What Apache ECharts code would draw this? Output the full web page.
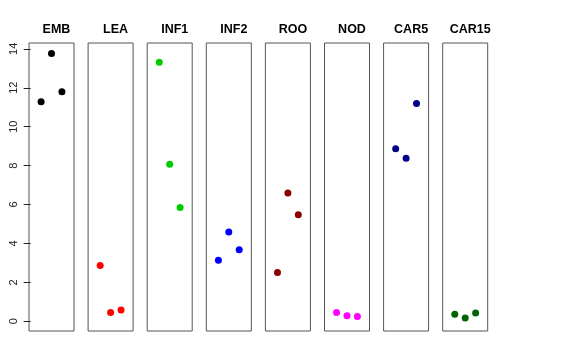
<!DOCTYPE html>
<html><head><meta charset="utf-8">
<script src="https://cdn.jsdelivr.net/npm/echarts@6/dist/echarts.min.js"></script>
<style>html,body{margin:0;padding:0;background:#fff}#c{width:576px;height:360px}</style>
</head><body><div id="c"></div>
<script>
const categories = ['EMB','LEA','INF1','INF2','ROO','NOD','CAR5','CAR15'];
const colors = ['#000000','#FF0000','#00CD00','#0000FF','#8B0000','#FF00FF','#00008B','#006400'];
const values = [
  [11.28, 13.76, 11.79],
  [2.86, 0.45, 0.58],
  [13.31, 8.07, 5.85],
  [3.13, 4.59, 3.67],
  [2.51, 6.59, 5.47],
  [0.45, 0.29, 0.24],
  [8.86, 8.38, 11.19],
  [0.36, 0.17, 0.43]
];
const yTicks = [0, 2, 4, 6, 8, 10, 12, 14];

const chart = echarts.init(document.getElementById('c'), null, {renderer:'canvas'});
const grids = [], xAxes = [], yAxes = [], series = [], titles = [];
const left0 = 29, step = 59.1, w = 45;
categories.forEach((cat, i) => {
  const l = left0 + i * step;
  grids.push({left: l, top: 43, width: w, height: 288, show: true, borderColor: '#555', borderWidth: 1, backgroundColor: 'transparent'});
  xAxes.push({type: 'value', gridIndex: i, min: -0.16, max: 4.16, show: false});
  yAxes.push({
    type: 'value', gridIndex: i, min: -0.5, max: 14.3, show: i === 0,
    splitLine: {show: false},
    axisLine: {show: false},
    axisTick: {show: true, length: 7, customValues: yTicks, lineStyle: {color: '#222'}},
    axisLabel: {show: true, customValues: yTicks, rotate: 90, margin: 10, fontSize: 11, color: '#222', fontFamily: 'Liberation Sans, Arial, sans-serif'}
  });
  series.push({
    type: 'scatter', xAxisIndex: i, yAxisIndex: i,
    data: values[i].map((v, j) => [j + 1, v]),
    symbolSize: 7, itemStyle: {color: colors[i], opacity: 1},
    silent: true
  });
  titles.push({
    text: cat, left: l + w / 2, top: 18, textAlign: 'center',
    textStyle: {fontSize: 12.5, fontWeight: 'bold', color: '#000', fontFamily: 'Liberation Sans, Arial, sans-serif'}
  });
});
chart.setOption({
  animation: false,
  title: titles,
  grid: grids, xAxis: xAxes, yAxis: yAxes, series: series
});
</script></body></html>
